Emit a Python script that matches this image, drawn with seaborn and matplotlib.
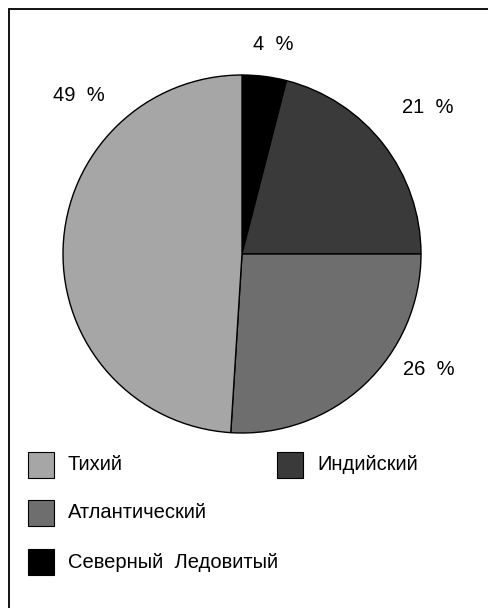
import matplotlib
matplotlib.use("Agg")
import matplotlib.pyplot as plt
from matplotlib.patches import Rectangle
from matplotlib.lines import Line2D
import seaborn as sns

# Ocean shares, in clockwise order from 12 o'clock
oceans = ["Северный  Ледовитый", "Индийский", "Атлантический", "Тихий"]
shares = [4, 21, 26, 49]
colors = ["#000000", "#3a3a3a", "#6e6e6e", "#a6a6a6"]

# Legend reading order (two columns, left column first)
legend_order = ["Тихий", "Индийский", "Атлантический", "Северный  Ледовитый"]

sns.set_theme(style="white")
plt.rcParams["font.family"] = ["Liberation Sans", "DejaVu Sans"]

W, H = 488, 608
fig = plt.figure(figsize=(W / 100, H / 100), dpi=100)
fig.patch.set_facecolor("white")


def fx(px):
    return px / W


def fy(py):
    return 1 - py / H


# Pie axes: square box centred on the pie
cx, cy, r = 242, 254, 179
ax = fig.add_axes([fx(cx - r), fy(cy + r), 2 * r / W, 2 * r / H])
wedges, _ = ax.pie(
    shares,
    colors=colors,
    startangle=90,
    counterclock=False,
    radius=1,
    wedgeprops=dict(edgecolor="black", linewidth=1.0),
)
ax.set_xlim(-1, 1)
ax.set_ylim(-1, 1)
ax.set_aspect("equal")
ax.axis("off")

# Percentage labels, placed around the rim
label_pos = [(0.173, 1.168), (1.039, 0.816), (1.045, -0.648), (-0.911, 0.883)]
for v, (lx, ly) in zip(shares, label_pos):
    ax.text(lx, ly, f"{v}  %", ha="center", va="center", fontsize=14.5,
            color="black", clip_on=False)

# Legend drawn as swatches + labels
color_of = dict(zip(oceans, colors))
slots = [(28, 452), (277, 452), (28, 500), (28, 549)]
sq = 26
for name, (sx, sy) in zip(legend_order, slots):
    fig.add_artist(Rectangle((fx(sx), fy(sy + sq)), sq / W, sq / H,
                             transform=fig.transFigure,
                             facecolor=color_of[name], edgecolor="black",
                             linewidth=0.8))
    fig.text(fx(sx + 40), fy(sy + sq / 2), name, ha="left", va="center",
             fontsize=14.5, color="black")

# Frame lines along the top and left
fig.add_artist(Line2D([fx(8.5), 1], [fy(8.5), fy(8.5)], color="#111111",
                      linewidth=1.4, transform=fig.transFigure))
fig.add_artist(Line2D([fx(8.5), fx(8.5)], [fy(8.5), 0], color="#111111",
                      linewidth=1.4, transform=fig.transFigure))

fig.savefig("out.png", dpi=100, facecolor="white")
